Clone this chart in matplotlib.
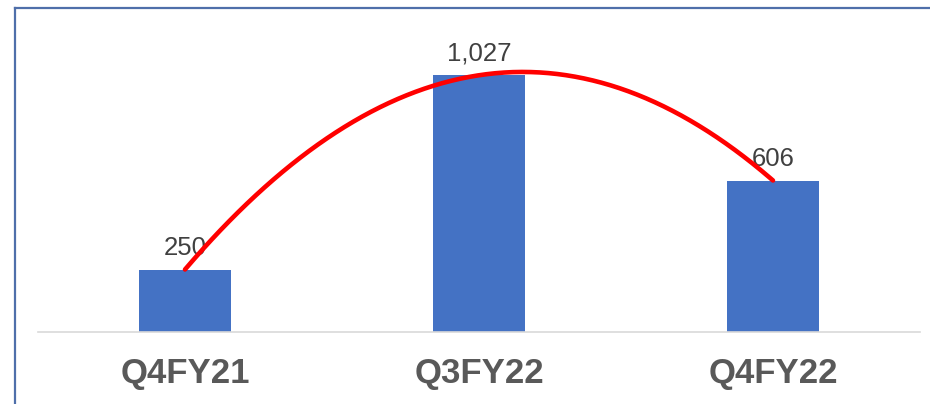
"""Quarterly bars with a second-order trend curve."""

import numpy as np
import matplotlib.pyplot as plt
from matplotlib.lines import Line2D

categories = ["Q4FY21", "Q3FY22", "Q4FY22"]
values = [250, 1027, 606]
value_labels = ["250", "1,027", "606"]

BAR_COLOR = "#4472C4"
CURVE_COLOR = "#FF0000"
BORDER_COLOR = "#4F6FAA"

plt.rcParams["font.family"] = ["Liberation Sans", "DejaVu Sans"]

fig = plt.figure(figsize=(9.3, 4.04), dpi=100)
ax = fig.add_axes([38 / 930, 72 / 404, 882 / 930, 300 / 404])

x = np.arange(len(categories))
ax.bar(x, values, width=0.313, color=BAR_COLOR, zorder=2)

for xi, v, lab in zip(x, values, value_labels):
    ax.annotate(lab, (xi, v), xytext=(0, 7), textcoords="offset points",
                ha="center", va="bottom", fontsize=18.5, color="#404040", zorder=3)

# polynomial (order 2) trendline across the bar tops
coef = np.polyfit(x, values, 2)
cx = np.linspace(x[0], x[-1], 200)
ax.plot(cx, np.polyval(coef, cx), color=CURVE_COLOR, linewidth=3.3,
        solid_capstyle="round", zorder=4)

ax.set_xlim(-0.5, len(categories) - 0.5)
ax.set_ylim(0, 1200)
ax.set_xticks(x)
ax.set_xticklabels(categories, fontsize=25, fontweight="bold", color="#595959")
ax.tick_params(axis="x", length=0, pad=18)
ax.set_yticks([])
for side in ("top", "right", "left"):
    ax.spines[side].set_visible(False)
ax.spines["bottom"].set_color("#D9D9D9")
ax.spines["bottom"].set_linewidth(1.2)

# outer frame, only the left and top edges fall inside the picture
fig.add_artist(Line2D([14.5 / 930, 14.5 / 930], [0, 1 - 7.5 / 404], color=BORDER_COLOR, linewidth=1.6))
fig.add_artist(Line2D([14.5 / 930, 1], [1 - 7.5 / 404, 1 - 7.5 / 404], color=BORDER_COLOR, linewidth=1.6))

fig.savefig("out.png", dpi=100)
